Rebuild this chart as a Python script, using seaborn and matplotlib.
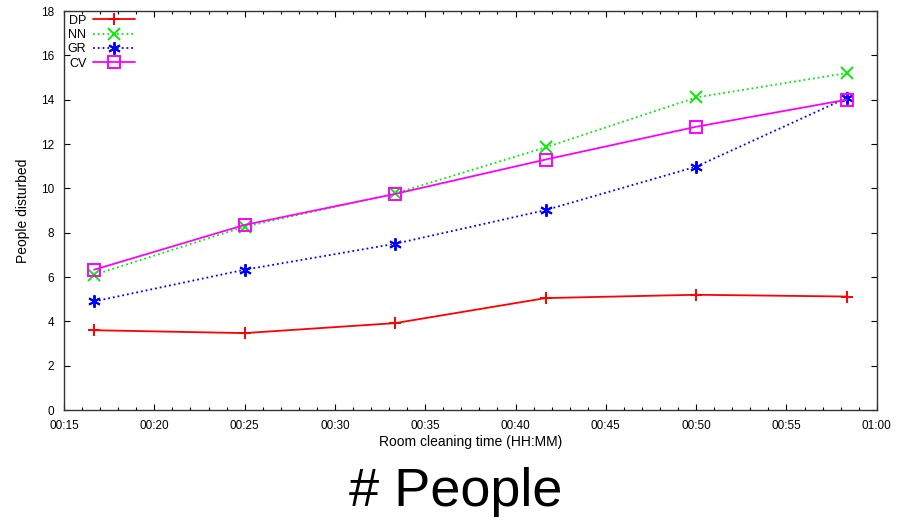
import pandas as pd
import seaborn as sns
import matplotlib
matplotlib.use("Agg")
import matplotlib.pyplot as plt
from matplotlib.ticker import MultipleLocator, FuncFormatter

# Data (room cleaning time in seconds, people disturbed)
times_s = [1000, 1500, 2000, 2500, 3000, 3500]
dp = [3.6, 3.47, 3.92, 5.05, 5.2, 5.12]
nn = [6.1, 8.27, 9.77, 11.85, 14.1, 15.2]
gr = [4.9, 6.33, 7.5, 9.02, 10.98, 14.08]
cv = [6.33, 8.35, 9.75, 11.3, 12.78, 14.0]

series_names = ["DP", "NN", "GR", "CV"]
series_vals = [dp, nn, gr, cv]
colors = ["#ff0000", "#00ee00", "#0000ff", "#ff00ff"]
markers = ["+", "x", (6, 2, 0), "s"]
dashes = ["-", ":", ":", "-"]

sns.set_style("ticks")
plt.rcParams["font.family"] = ["Liberation Sans", "DejaVu Sans"]
plt.rcParams["text.color"] = "black"
plt.rcParams["axes.labelcolor"] = "black"
plt.rcParams["xtick.color"] = "black"
plt.rcParams["ytick.color"] = "black"

fig = plt.figure(figsize=(9.02, 5.26), dpi=100)
ax = fig.add_axes([0.071, 0.2205, 0.901, 0.7585])

for name, vals, c, m, ls in zip(series_names, series_vals, colors, markers, dashes):
    df = pd.DataFrame({"t": times_s, "v": vals})
    face = "none" if m == "s" else c
    sns.lineplot(data=df, x="t", y="v", ax=ax, color=c, linestyle=ls,
                 linewidth=1.3, marker=m, markersize=9, markeredgewidth=1.4,
                 markerfacecolor=face, markeredgecolor=c, label=name)

ax.set_xlim(900, 3600)
ax.set_ylim(0, 18)
ax.xaxis.set_major_locator(MultipleLocator(300))
ax.xaxis.set_minor_locator(MultipleLocator(60))
ax.yaxis.set_major_locator(MultipleLocator(2))
ax.xaxis.set_major_formatter(FuncFormatter(
    lambda s, p: "%02d:%02d" % (int(round(s)) // 3600, (int(round(s)) % 3600) // 60)))
ax.tick_params(direction="in", top=True, right=True, which="both", labelsize=8.5,
               length=4, width=0.8, pad=7)
ax.tick_params(which="minor", length=2)
for sp in ax.spines.values():
    sp.set_linewidth(1.0)
    sp.set_color("#333333")

ax.set_xlabel("Room cleaning time (HH:MM)", fontsize=10, labelpad=2)
ax.set_ylabel("People disturbed", fontsize=10, labelpad=8)

leg = ax.legend(loc="upper left", markerfirst=False, frameon=False, fontsize=9,
                handlelength=3.4, labelspacing=0.18, borderaxespad=0.2,
                handletextpad=0.5, borderpad=0.1)

fig.text(0.505, 0.038, "# People", ha="center", va="baseline", fontsize=39)

plt.savefig("out.png", dpi=100)
